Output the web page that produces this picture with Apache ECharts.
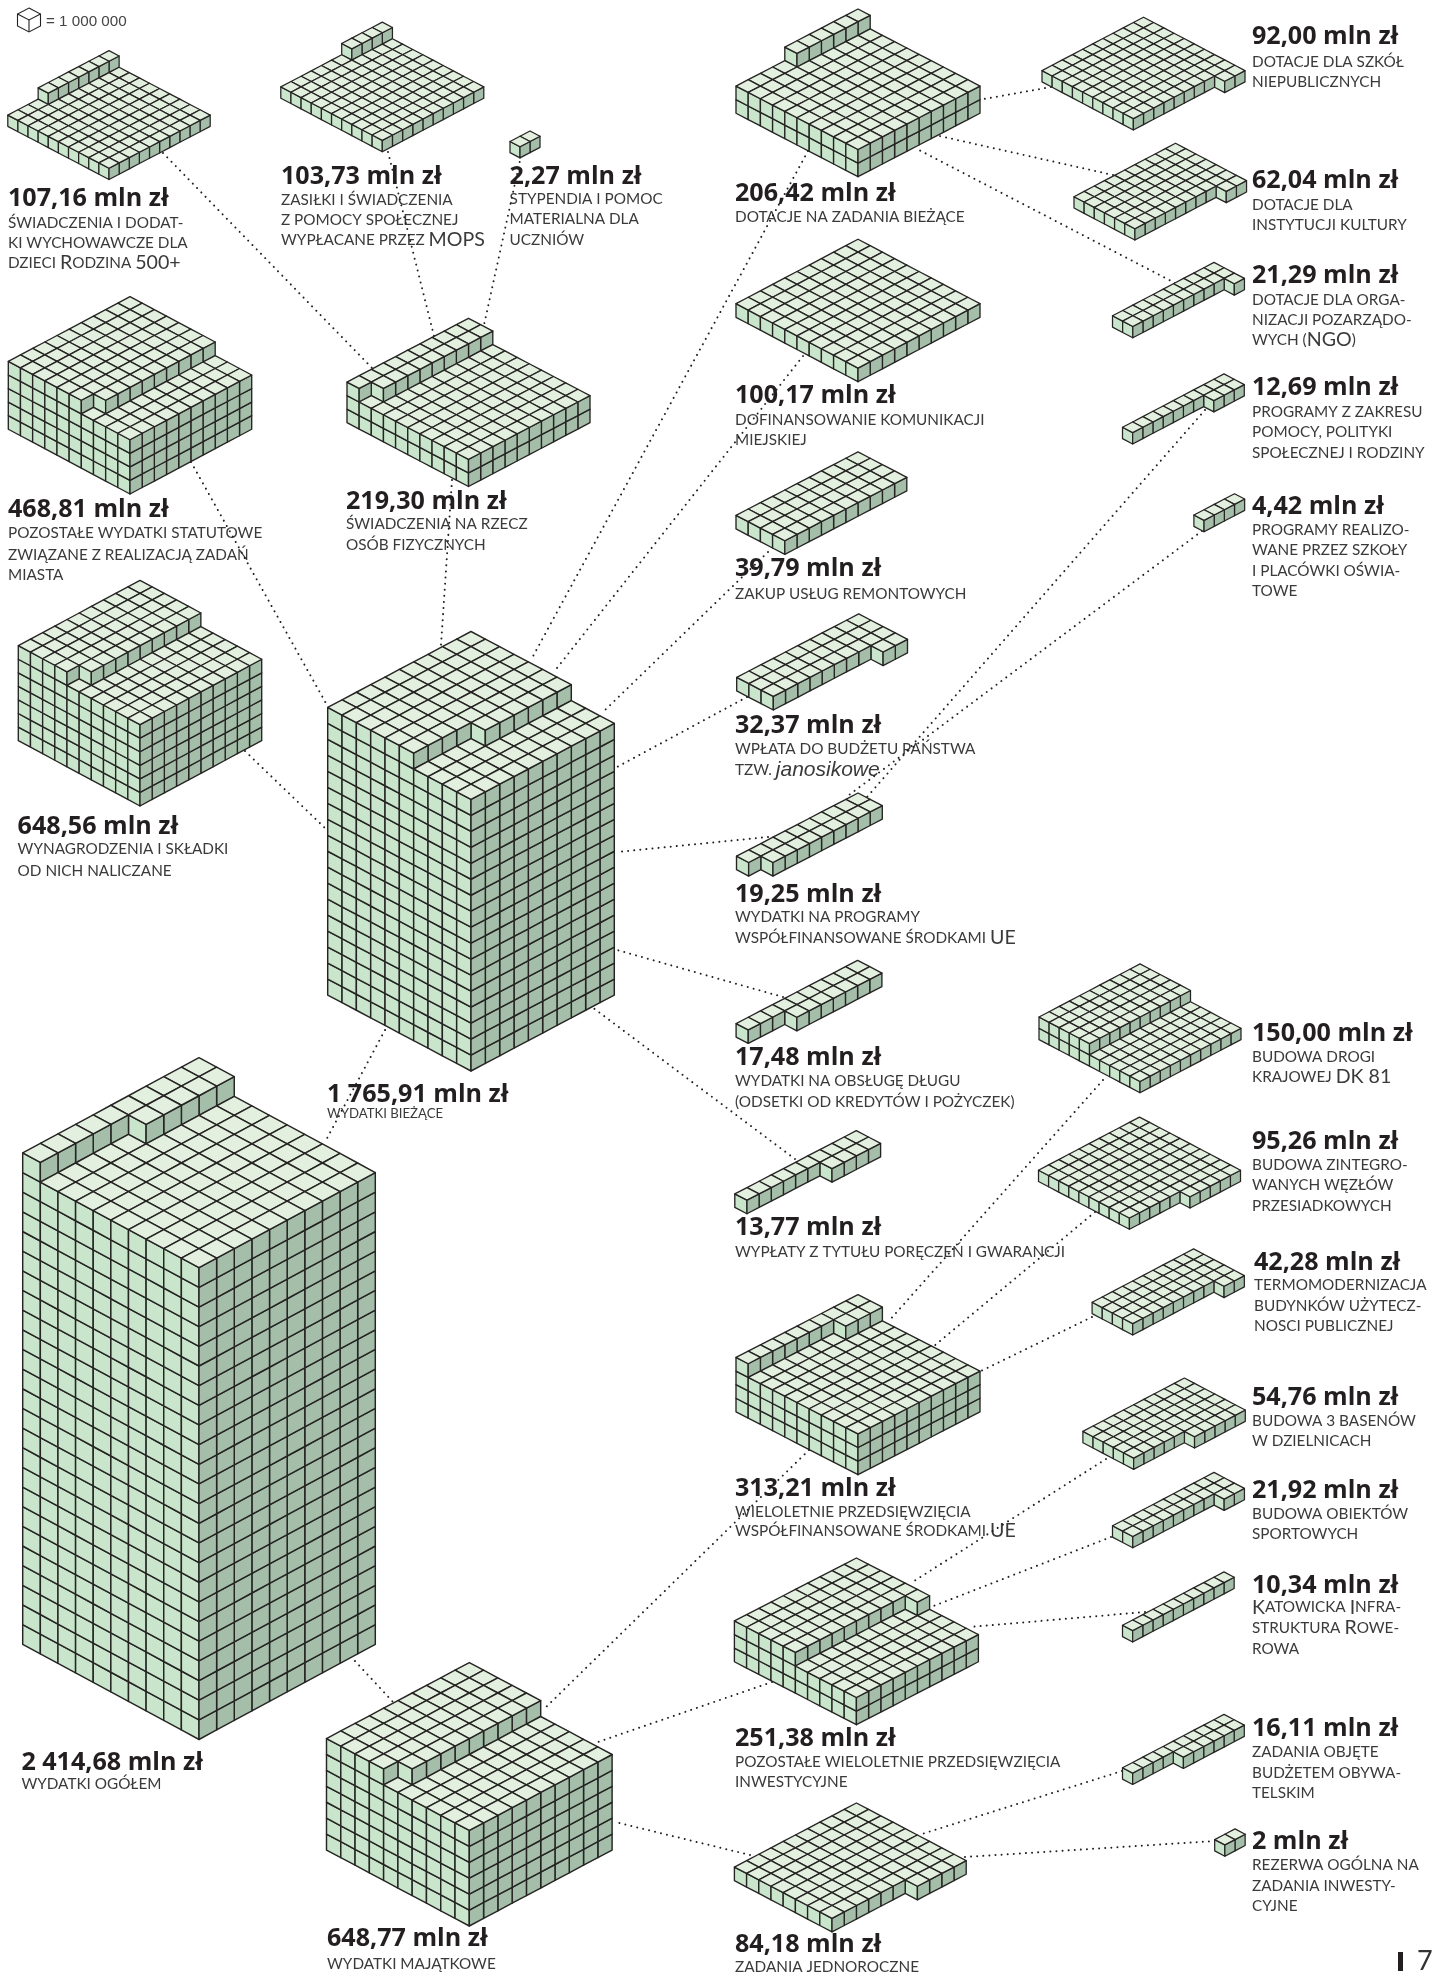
<!DOCTYPE html>
<html>
<head>
<meta charset="utf-8">
<style>html,body{margin:0;padding:0;background:#fff}#c{width:1432px;height:1973px}</style>
<script src="https://cdn.jsdelivr.net/npm/echarts@6/dist/echarts.min.js"></script>
</head>
<body>
<div id="c"></div>
<script>
// ---------- data: one cube = 1 000 000 zł ----------
const blockIds = ['ogolem','biezace','majatkowe','wynagrodzenia','statutowe','osoby','rodzina500','mops','stypendia',
  'dotacje','komunikacja','remonty','janosikowe','ue','dlug','poreczenia','szkoly','kultura','ngo','pomoc','oswiata',
  'wpf_ue','wpf_inne','jednoroczne','dk81','wezly','termo','baseny','sport','rowery','obywatelski','rezerwa'];
const blockValues = [2414.68,1765.91,648.77,648.56,468.81,219.30,107.16,103.73,2.27,
  206.42,100.17,39.79,32.37,19.25,17.48,13.77,92.00,62.04,21.29,12.69,4.42,
  313.21,251.38,84.18,150.00,95.26,42.28,54.76,21.92,10.34,16.11,2];
const valueLabels = ['2 414,68 mln zł','1 765,91 mln zł','648,77 mln zł','648,56 mln zł','468,81 mln zł','219,30 mln zł','107,16 mln zł','103,73 mln zł','2,27 mln zł',
  '206,42 mln zł','100,17 mln zł','39,79 mln zł','32,37 mln zł','19,25 mln zł','17,48 mln zł','13,77 mln zł','92,00 mln zł','62,04 mln zł','21,29 mln zł','12,69 mln zł','4,42 mln zł',
  '313,21 mln zł','251,38 mln zł','84,18 mln zł','150,00 mln zł','95,26 mln zł','42,28 mln zł','54,76 mln zł','21,92 mln zł','10,34 mln zł','16,11 mln zł','2 mln zł'];
const captions = [
  ['WYDATKI OGÓŁEM'],
  ['WYDATKI BIEŻĄCE'],
  ['WYDATKI MAJĄTKOWE'],
  ['WYNAGRODZENIA I SKŁADKI','OD NICH NALICZANE'],
  ['POZOSTAŁE WYDATKI STATUTOWE','ZWIĄZANE Z REALIZACJĄ ZADAŃ','MIASTA'],
  ['ŚWIADCZENIA NA RZECZ','OSÓB FIZYCZNYCH'],
  ['ŚWIADCZENIA I DODAT-','KI WYCHOWAWCZE DLA','DZIECI {c|R}ODZINA {c|500+}'],
  ['ZASIŁKI I ŚWIADCZENIA','Z POMOCY SPOŁECZNEJ','WYPŁACANE PRZEZ {c|MOPS}'],
  ['STYPENDIA I POMOC','MATERIALNA DLA','UCZNIÓW'],
  ['DOTACJE NA ZADANIA BIEŻĄCE'],
  ['DOFINANSOWANIE KOMUNIKACJI','MIEJSKIEJ'],
  ['ZAKUP USŁUG REMONTOWYCH'],
  ['WPŁATA DO BUDŻETU PAŃSTWA','TZW. {i|janosikowe}'],
  ['WYDATKI NA PROGRAMY','WSPÓŁFINANSOWANE ŚRODKAMI {c|UE}'],
  ['WYDATKI NA OBSŁUGĘ DŁUGU','(ODSETKI OD KREDYTÓW I POŻYCZEK)'],
  ['WYPŁATY Z TYTUŁU PORĘCZEŃ I GWARANCJI'],
  ['DOTACJE DLA SZKÓŁ','NIEPUBLICZNYCH'],
  ['DOTACJE DLA','INSTYTUCJI KULTURY'],
  ['DOTACJE DLA ORGA-','NIZACJI POZARZĄDO-','WYCH ({c|NGO})'],
  ['PROGRAMY Z ZAKRESU','POMOCY, POLITYKI','SPOŁECZNEJ I RODZINY'],
  ['PROGRAMY REALIZO-','WANE PRZEZ SZKOŁY','I PLACÓWKI OŚWIA-','TOWE'],
  ['WIELOLETNIE PRZEDSIĘWZIĘCIA','WSPÓŁFINANSOWANE ŚRODKAMI {c|UE}'],
  ['POZOSTAŁE WIELOLETNIE PRZEDSIĘWZIĘCIA','INWESTYCYJNE'],
  ['ZADANIA JEDNOROCZNE'],
  ['BUDOWA DROGI','KRAJOWEJ {c|DK 81}'],
  ['BUDOWA ZINTEGRO-','WANYCH WĘZŁÓW','PRZESIADKOWYCH'],
  ['TERMOMODERNIZACJA','BUDYNKÓW UŻYTECZ-','NOSCI PUBLICZNEJ'],
  ['BUDOWA 3 BASENÓW','W DZIELNICACH'],
  ['BUDOWA OBIEKTÓW','SPORTOWYCH'],
  ['{c|K}ATOWICKA {c|I}NFRA-','STRUKTURA {c|R}OWE-','ROWA'],
  ['ZADANIA OBJĘTE','BUDŻETEM OBYWA-','TELSKIM'],
  ['REZERWA OGÓLNA NA','ZADANIA INWESTY-','CYJNE']
];
// parent -> child links of the budget tree
const links = [['biezace','ogolem'],['majatkowe','ogolem'],
  ['wynagrodzenia','biezace'],['statutowe','biezace'],['osoby','biezace'],['dotacje','biezace'],['komunikacja','biezace'],['remonty','biezace'],['janosikowe','biezace'],['ue','biezace'],['dlug','biezace'],['poreczenia','biezace'],
  ['rodzina500','osoby'],['mops','osoby'],['stypendia','osoby'],
  ['szkoly','dotacje'],['kultura','dotacje'],['ngo','dotacje'],['pomoc','ue'],['oswiata','ue'],
  ['wpf_ue','majatkowe'],['wpf_inne','majatkowe'],['jednoroczne','majatkowe'],
  ['dk81','wpf_ue'],['wezly','wpf_ue'],['termo','wpf_ue'],['baseny','wpf_inne'],['sport','wpf_inne'],['rowery','wpf_inne'],['obywatelski','jednoroczne'],['rezerwa','jednoroczne']];

// ---------- layout (page pixels), separate from the data ----------
const GRID = 10;                     // footprint of every block: 10 x 10 cubes
// ground position of each block's virtual front corner, half-width of a cube, flatness of the isometric tile
const blockLayout = {
  ogolem:[199,1739.5,17.63,.54], biezace:[471,1071,14.33,.53], majatkowe:[469.3,1926,14.28,.532],
  wynagrodzenia:[140,806,12.17,.537], statutowe:[130,494,12.17,.532], osoby:[468.5,486.5,12.15,.525],
  rodzina500:[109,179.5,10.12,.525], mops:[382.3,151.7,10.15,.527], stypendia:[530,247.5,10,.527],
  dotacje:[858,176.7,12.2,.52], komunikacja:[858,381.7,12.2,.528], remonty:[858,592.4,12.2,.52], janosikowe:[858.7,754.4,12.2,.52],
  ue:[858,932.9,12.15,.52], dlug:[857.6,1100.3,12.15,.52], poreczenia:[856.3,1270.6,12.15,.52],
  szkoly:[1143.5,135.3,10.15,.526], kultura:[1175.5,261.4,10.15,.526], ngo:[1214,380.5,10.15,.526], pomoc:[1224,492,10.15,.526], oswiata:[1234.5,611.8,10.15,.526],
  wpf_ue:[858,1474.7,12.2,.515], wpf_inne:[856.4,1724.7,12.2,.516], jednoroczne:[856.4,1944.7,12.2,.525],
  dk81:[1140,1092.7,10.1,.526], wezly:[1139.5,1234.6,10.1,.526], termo:[1193.6,1367,10.15,.526],
  baseny:[1184.4,1496.1,10.15,.526], sport:[1214,1590.5,10.15,.526], rowery:[1224,1690,10.15,.526], obywatelski:[1224,1832.5,10.15,.526], rezerwa:[1235,1947,10.15,.526]
};
// label layout: x, centre y of amount, centre y of each caption line
const labelLayout = {
  ogolem:[21.4,1762,[1784]], biezace:[327,1093.5,[1114]], majatkowe:[327,1938,[1964]],
  wynagrodzenia:[17.6,825.5,[849.4,870.8]], statutowe:[8,509,[533.4,555,575]], osoby:[346,501,[524,545]],
  rodzina500:[8,198,[222.7,242.7,263]], mops:[281,176,[200,220,240]], stypendia:[509.6,176,[199.5,219.5,240.5]],
  dotacje:[735,192.7,[216.7]], komunikacja:[735,395,[420,440]], remonty:[735,568,[593.7]], janosikowe:[735,725,[749.3,769.7]],
  ue:[735,893.7,[916.6,938]], dlug:[735,1057,[1081.4,1101.8]], poreczenia:[735,1226.8,[1252]],
  szkoly:[1252,36,[61.7,81.7]], kultura:[1252,180,[205,225]], ngo:[1252,275,[300,320,340]], pomoc:[1252,387,[412,432,452.7]], oswiata:[1252,506,[530,550,571,591]],
  wpf_ue:[735,1488,[1512,1531]], wpf_inne:[735,1738,[1762,1782]], jednoroczne:[735,1943.7,[1966.7]],
  dk81:[1252,1033,[1057,1077]], wezly:[1252,1140.7,[1165,1185,1206]], termo:[1254,1261.7,[1285,1306,1326]],
  baseny:[1252,1397,[1420.7,1441.5]], sport:[1252,1490,[1513.6,1534]], rowery:[1252,1584.4,[1607.4,1628,1649.5]], obywatelski:[1252,1727.8,[1752,1773,1793]], rezerwa:[1252,1841,[1865,1886,1906]]
};
const linkLayout = {
  'biezace-ogolem':[385,1030,325,1142], 'majatkowe-ogolem':[355,1661,393,1702],
  'wynagrodzenia-biezace':[245,751,327,830], 'statutowe-biezace':[191,462,327,705], 'osoby-biezace':[452,480,441,645],
  'dotacje-biezace':[808,151,532,658], 'komunikacja-biezace':[803,356,557,668], 'remonty-biezace':[768,552,602,713],
  'janosikowe-biezace':[747,697,617,767], 'ue-biezace':[768,837,617,852], 'dlug-biezace':[783,997,617,950], 'poreczenia-biezace':[795,1159,592,1007],
  'rodzina500-osoby':[163,153,373,369], 'mops-osoby':[388,152,434,336], 'stypendia-osoby':[521,156,484,325],
  'szkoly-dotacje':[1051,87,984,99], 'kultura-dotacje':[1113,175,939.5,136], 'ngo-dotacje':[1175,283,919,150],
  'pomoc-ue':[1205,410,867,797], 'oswiata-ue':[1202,531,849,795],
  'wpf_ue-majatkowe':[809,1450,543,1710], 'wpf_inne-majatkowe':[772,1682,595,1743], 'jednoroczne-majatkowe':[750,1855,615,1822],
  'dk81-wpf_ue':[1103,1080,888,1322], 'wezly-wpf_ue':[1095,1212,934,1346], 'termo-wpf_ue':[1092,1317,981,1371],
  'baseny-wpf_inne':[1106,1459,911,1583], 'sport-wpf_inne':[1111,1537,931,1607], 'rowery-wpf_inne':[1145,1612,970,1627],
  'obywatelski-jednoroczne':[1122,1771,922,1834], 'rezerwa-jednoroczne':[1215,1841,965,1857]
};
const COLORS = {top:'#e4f0df', left:'#c9e5cb', right:'#a4bea9', line:'#252423', amount:'#231f20', caption:'#3b3a3a'};
const TALL = 1.115, AMOUNT_SHIFT = 1;
const smallCaps = {fontFamily:'Lato', fontSize:15.3, fill:COLORS.caption};

// column heights of a block: each layer is laid row by row from the back corner
function heights(count){
  const h = [];
  for(let i=0;i<GRID;i++){h.push(new Array(GRID).fill(0));}
  const full = Math.floor(count/(GRID*GRID));
  let rest = count - full*GRID*GRID;
  for(let i=0;i<GRID;i++)for(let j=0;j<GRID;j++)h[i][j]=full;
  for(let j=GRID-1;j>=0&&rest>0;j--)for(let i=GRID-1;i>=0&&rest>0;i--){h[i][j]++;rest--;}
  return h;
}

function renderBlock(params, api){
  const id = blockIds[api.value(3)];
  const fx = api.value(0), fy = api.value(1), count = Math.round(api.value(2));
  const dx = blockLayout[id][2], dy = dx*blockLayout[id][3], hh = dx*TALL;
  const P = (i,j,k)=>api.coord([fx+(i-j)*dx, fy-(i+j)*dy-k*hh]);
  const H = heights(count), kids = [];
  const lw = dx>13?1.45:(dx>11?1.35:1.25);
  const add = (pts,fill)=>kids.push({type:'polygon',shape:{points:pts},
    style:{fill:fill,stroke:COLORS.line,lineWidth:lw,lineJoin:'round'},silent:true});
  for(let s=2*GRID-2;s>=0;s--){
    for(let i=Math.min(s,GRID-1);i>=0&&s-i<GRID;i--){
      const j=s-i, t=H[i][j];
      if(!t) continue;
      const leftFrom = i>0?H[i-1][j]:0, rightFrom = j>0?H[i][j-1]:0;
      for(let k=leftFrom;k<t;k++) add([P(i,j,k),P(i,j+1,k),P(i,j+1,k+1),P(i,j,k+1)],COLORS.left);
      for(let k=rightFrom;k<t;k++) add([P(i,j,k),P(i+1,j,k),P(i+1,j,k+1),P(i,j,k+1)],COLORS.right);
      add([P(i,j,t),P(i+1,j,t),P(i+1,j+1,t),P(i,j+1,t)],COLORS.top);
    }
  }
  return {type:'group',children:kids};
}

function renderLink(params, api){
  const a = api.coord([api.value(0),api.value(1)]), b = api.coord([api.value(2),api.value(3)]);
  return {type:'line',shape:{x1:a[0],y1:a[1],x2:b[0],y2:b[1]},silent:true,
    style:{stroke:COLORS.amount,lineWidth:2,lineCap:'round',lineDash:[0.01,6.1],fill:null}};
}

function renderLabel(params, api){
  const id = blockIds[api.value(2)];
  const p = api.coord([api.value(0),api.value(1)+AMOUNT_SHIFT]);
  const lay = labelLayout[id], kids = [];
  kids.push({type:'text',x:p[0],y:p[1],silent:true,style:{text:valueLabels[api.value(2)],fontFamily:'Open Sans',fontWeight:700,fontSize:25.1,fill:COLORS.amount,align:'left',verticalAlign:'middle'}});
  captions[api.value(2)].forEach((line,n)=>{
    const c = api.coord([lay[0],lay[2][n]]);
    kids.push({type:'text',x:c[0],y:c[1],silent:true,style:{text:line,fontFamily:smallCaps.fontFamily,fontSize:id==='biezace'?13.2:smallCaps.fontSize,fill:smallCaps.fill,align:'left',verticalAlign:'middle',
      rich:{c:{fontFamily:'Lato',fontSize:19.6,fill:smallCaps.fill},i:{fontFamily:'Liberation Sans',fontStyle:'italic',fontSize:21,fill:smallCaps.fill}}}});
  });
  return {type:'group',children:kids};
}

const chart = echarts.init(document.getElementById('c'),null,{renderer:'canvas',width:1432,height:1973});
chart.setOption({
  animation:false,
  backgroundColor:'#fff',
  grid:{left:0,right:0,top:0,bottom:0},
  xAxis:{type:'value',min:0,max:1432,show:false},
  yAxis:{type:'value',min:0,max:1973,inverse:true,show:false},
  series:[
    {type:'custom',name:'podpisy',z:1,renderItem:renderLabel,clip:false,encode:{x:0,y:1},
     data:blockIds.map((id,i)=>[labelLayout[id][0],labelLayout[id][1],i])},
    {type:'custom',name:'powiązania',z:2,renderItem:renderLink,clip:false,encode:{x:0,y:1},
     data:links.map(l=>linkLayout[l[0]+'-'+l[1]])},
    {type:'custom',name:'wydatki',z:3,renderItem:renderBlock,clip:false,encode:{x:0,y:1},progressive:0,
     data:blockIds.map((id,i)=>[blockLayout[id][0],blockLayout[id][1],blockValues[i],i])}
  ],
  graphic:[
    {type:'polygon',silent:true,shape:{points:[[29,8],[40.5,14],[40.5,26],[29,32],[17.5,26],[17.5,14]]},style:{fill:'none',stroke:'#222',lineWidth:1.1}},
    {type:'polyline',silent:true,shape:{points:[[17.5,14],[29,20],[40.5,14]]},style:{fill:'none',stroke:'#222',lineWidth:1.1}},
    {type:'line',silent:true,shape:{x1:29,y1:20,x2:29,y2:32},style:{stroke:'#222',lineWidth:1.1}},
    {type:'text',silent:true,x:46,y:21.5,style:{text:'= 1 000 000',fontFamily:'Liberation Sans',fontSize:15.2,fill:'#444',verticalAlign:'middle'}},
    {type:'rect',silent:true,shape:{x:1398,y:1952,width:5,height:19},style:{fill:'#231f20'}},
    {type:'text',silent:true,x:1417,y:1961,style:{text:'7',fontFamily:'Lato',fontSize:27,fill:'#333',verticalAlign:'middle'}}
  ]
});
</script>
</body>
</html>
